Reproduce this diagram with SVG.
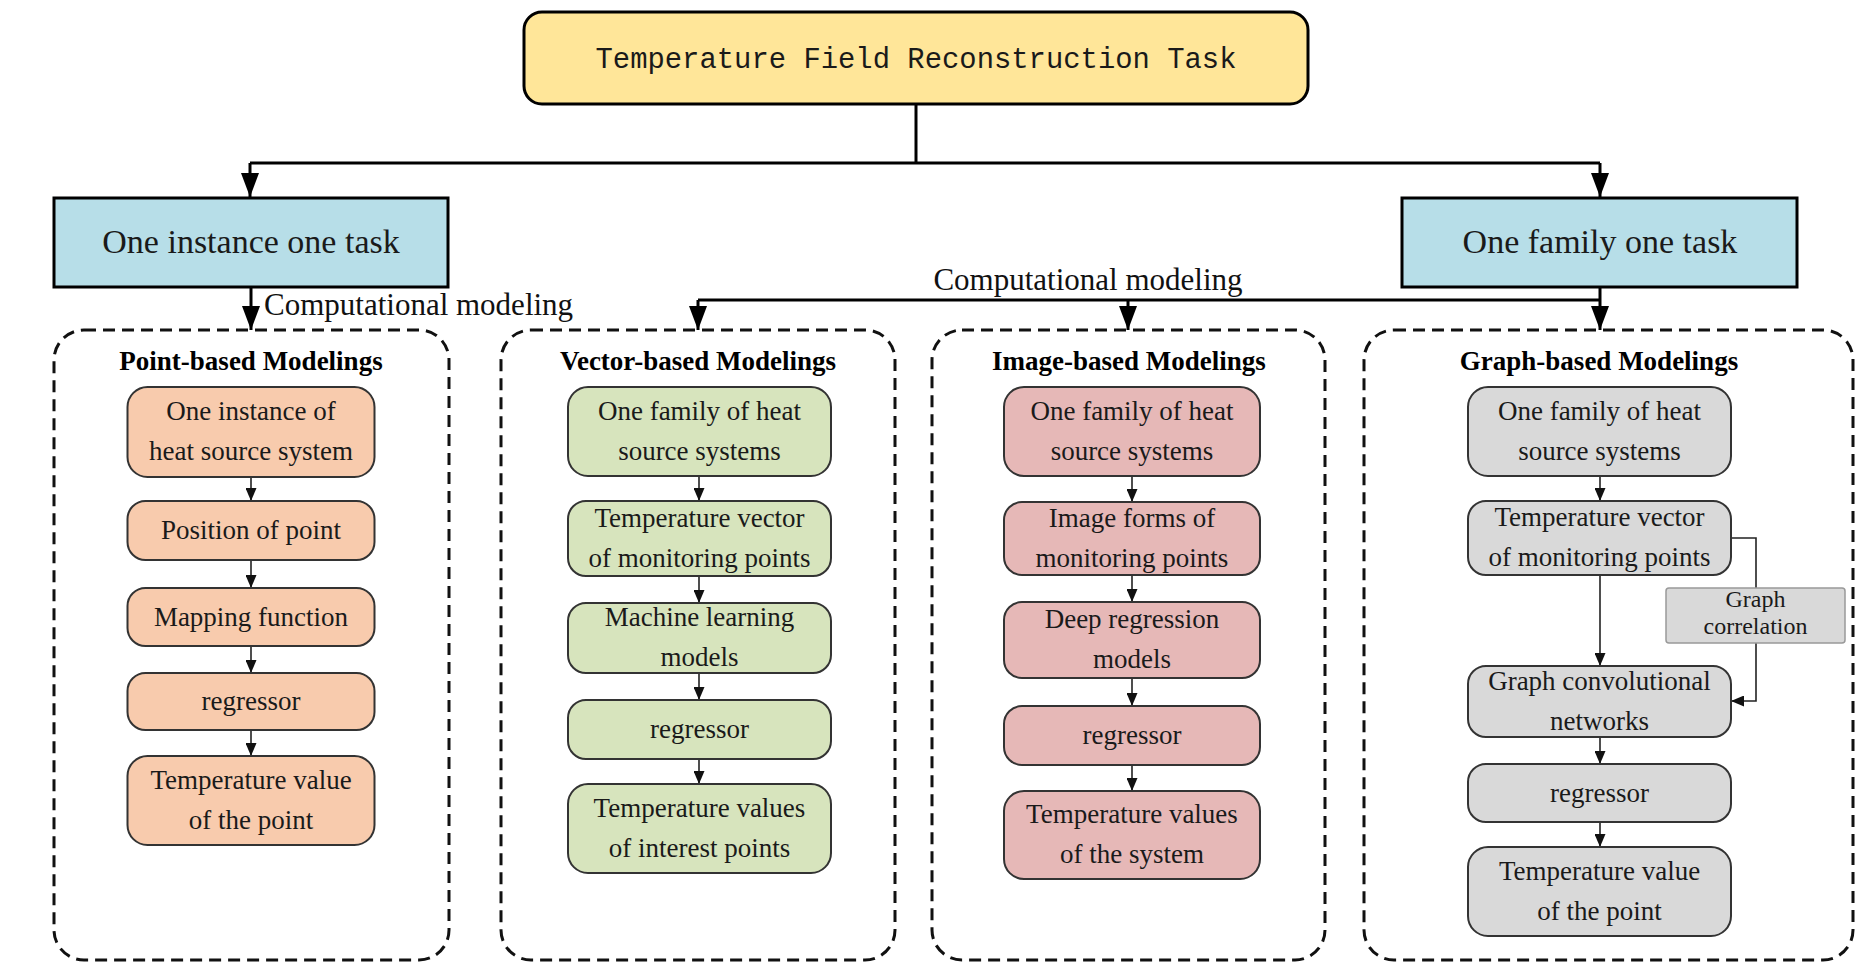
<svg xmlns="http://www.w3.org/2000/svg" width="1868" height="978" viewBox="0 0 1868 978">
<style>
  .t { font-family: "Liberation Serif", "Times New Roman", serif; fill: #1a1a1a; text-anchor: middle; }
  .nt { font-size: 27px; }
  .st { font-size: 24px; }
  .title { font-size: 27px; font-weight: bold; fill: #000; }
  .lbl { font-size: 31px; fill: #111; }
  .big { font-size: 34px; }
  .node { stroke: #333; stroke-width: 2; }
  .peach { fill: #F8CBAD; }
  .green { fill: #D7E4BD; }
  .pink { fill: #E6B8B7; }
  .gray { fill: #D9D9D9; }
  .dash { fill: none; stroke: #111; stroke-width: 3; stroke-dasharray: 12 7; }
  .conn { fill: none; stroke: #000; stroke-width: 3; }
  .sconn { fill: none; stroke: #222; stroke-width: 1.6; }
</style>
<defs>
  <marker id="ab" viewBox="0 0 24 18" markerWidth="24" markerHeight="18" refX="24" refY="9" orient="auto" markerUnits="userSpaceOnUse">
    <path d="M0,0 L24,9 L0,18 Z" fill="#000"/>
  </marker>
  <marker id="as" viewBox="0 0 13 11" markerWidth="13" markerHeight="11" refX="13" refY="5.5" orient="auto" markerUnits="userSpaceOnUse">
    <path d="M0,0 L13,5.5 L0,11 Z" fill="#111"/>
  </marker>
</defs>
<rect width="1868" height="978" fill="#fff"/>

<g id="connectors">
  <path class="conn" d="M916,104 V163"/>
  <path class="conn" d="M250,163 H1600"/>
  <path class="conn" d="M250,163 V197" marker-end="url(#ab)"/>
  <path class="conn" d="M1600,163 V197" marker-end="url(#ab)"/>
  <path class="conn" d="M251,287 V330" marker-end="url(#ab)"/>
  <path class="conn" d="M1600,287 V330" marker-end="url(#ab)"/>
  <path class="conn" d="M698,300 H1600"/>
  <path class="conn" d="M698,300 V330" marker-end="url(#ab)"/>
  <path class="conn" d="M1128,300 V330" marker-end="url(#ab)"/>
  <!-- column 1 -->
  <path class="sconn" d="M251,477 V501" marker-end="url(#as)"/>
  <path class="sconn" d="M251,560 V588" marker-end="url(#as)"/>
  <path class="sconn" d="M251,646 V673" marker-end="url(#as)"/>
  <path class="sconn" d="M251,730 V756" marker-end="url(#as)"/>
  <!-- column 2 -->
  <path class="sconn" d="M699,476 V501" marker-end="url(#as)"/>
  <path class="sconn" d="M699,576 V603" marker-end="url(#as)"/>
  <path class="sconn" d="M699,673 V700" marker-end="url(#as)"/>
  <path class="sconn" d="M699,759 V784" marker-end="url(#as)"/>
  <!-- column 3 -->
  <path class="sconn" d="M1132,476 V502" marker-end="url(#as)"/>
  <path class="sconn" d="M1132,575 V602" marker-end="url(#as)"/>
  <path class="sconn" d="M1132,678 V706" marker-end="url(#as)"/>
  <path class="sconn" d="M1132,765 V791" marker-end="url(#as)"/>
  <!-- column 4 -->
  <path class="sconn" d="M1600,476 V501" marker-end="url(#as)"/>
  <path class="sconn" d="M1600,575 V666" marker-end="url(#as)"/>
  <path class="sconn" d="M1600,737 V764" marker-end="url(#as)"/>
  <path class="sconn" d="M1600,822 V847" marker-end="url(#as)"/>
  <path class="sconn" d="M1731,538 H1756 V701 H1731" marker-end="url(#as)"/>
</g>

<g id="labels">
  <text class="t lbl" x="264" y="315" style="text-anchor:start">Computational modeling</text>
  <text class="t lbl" x="1088" y="290">Computational modeling</text>
</g>

<g id="task">
  <rect x="524" y="12" width="784" height="92" rx="18" fill="#FFE699" stroke="#000" stroke-width="3"/>
  <text x="916" y="68" font-family="Liberation Mono, Courier New, monospace" font-size="30" fill="#1a1a1a" text-anchor="middle" textLength="641" lengthAdjust="spacingAndGlyphs">Temperature Field Reconstruction Task</text>
</g>

<g id="instance-task">
  <rect x="54" y="198" width="394" height="89" fill="#B7DEE8" stroke="#000" stroke-width="3"/>
  <text class="t big" x="251" y="253">One instance one task</text>
</g>
<g id="family-task">
  <rect x="1402" y="198" width="395" height="89" fill="#B7DEE8" stroke="#000" stroke-width="3"/>
  <text class="t big" x="1600" y="253">One family one task</text>
</g>

<g id="point-based">
  <rect class="dash" x="54" y="330" width="395" height="630" rx="30"/>
  <text class="t title" x="251" y="370">Point-based Modelings</text>
</g>
<g id="vector-based">
  <rect class="dash" x="501" y="330" width="394" height="630" rx="30"/>
  <text class="t title" x="698" y="370">Vector-based Modelings</text>
</g>
<g id="image-based">
  <rect class="dash" x="932" y="330" width="393" height="630" rx="30"/>
  <text class="t title" x="1129" y="370">Image-based Modelings</text>
</g>
<g id="graph-based">
  <rect class="dash" x="1364" y="330" width="489" height="630" rx="30"/>
  <text class="t title" x="1599" y="370">Graph-based Modelings</text>
</g>

<!-- column 1 -->
<g id="p1"><rect class="node peach" x="127.5" y="387" width="247" height="90" rx="20"/>
  <text class="t nt" x="251" y="420">One instance of</text><text class="t nt" x="251" y="460">heat source system</text></g>
<g id="p2"><rect class="node peach" x="127.5" y="501" width="247" height="59" rx="18"/>
  <text class="t nt" x="251" y="539">Position of point</text></g>
<g id="p3"><rect class="node peach" x="127.5" y="588" width="247" height="58" rx="18"/>
  <text class="t nt" x="251" y="626">Mapping function</text></g>
<g id="p4"><rect class="node peach" x="127.5" y="673" width="247" height="57" rx="18"/>
  <text class="t nt" x="251" y="710">regressor</text></g>
<g id="p5"><rect class="node peach" x="127.5" y="756" width="247" height="89" rx="20"/>
  <text class="t nt" x="251" y="789">Temperature value</text><text class="t nt" x="251" y="829">of the point</text></g>

<!-- column 2 -->
<g id="v1"><rect class="node green" x="568" y="387" width="263" height="89" rx="20"/>
  <text class="t nt" x="699.5" y="420">One family of heat</text><text class="t nt" x="699.5" y="460">source systems</text></g>
<g id="v2"><rect class="node green" x="568" y="501" width="263" height="75" rx="18"/>
  <text class="t nt" x="699.5" y="527">Temperature vector</text><text class="t nt" x="699.5" y="567">of monitoring points</text></g>
<g id="v3"><rect class="node green" x="568" y="603" width="263" height="70" rx="18"/>
  <text class="t nt" x="699.5" y="626">Machine learning</text><text class="t nt" x="699.5" y="666">models</text></g>
<g id="v4"><rect class="node green" x="568" y="700" width="263" height="59" rx="18"/>
  <text class="t nt" x="699.5" y="738">regressor</text></g>
<g id="v5"><rect class="node green" x="568" y="784" width="263" height="89" rx="20"/>
  <text class="t nt" x="699.5" y="817">Temperature values</text><text class="t nt" x="699.5" y="857">of interest points</text></g>

<!-- column 3 -->
<g id="i1"><rect class="node pink" x="1004" y="387" width="256" height="89" rx="20"/>
  <text class="t nt" x="1132" y="420">One family of heat</text><text class="t nt" x="1132" y="460">source systems</text></g>
<g id="i2"><rect class="node pink" x="1004" y="502" width="256" height="73" rx="18"/>
  <text class="t nt" x="1132" y="527">Image forms of</text><text class="t nt" x="1132" y="567">monitoring points</text></g>
<g id="i3"><rect class="node pink" x="1004" y="602" width="256" height="76" rx="18"/>
  <text class="t nt" x="1132" y="628">Deep regression</text><text class="t nt" x="1132" y="668">models</text></g>
<g id="i4"><rect class="node pink" x="1004" y="706" width="256" height="59" rx="18"/>
  <text class="t nt" x="1132" y="744">regressor</text></g>
<g id="i5"><rect class="node pink" x="1004" y="791" width="256" height="88" rx="20"/>
  <text class="t nt" x="1132" y="823">Temperature values</text><text class="t nt" x="1132" y="863">of the system</text></g>

<!-- column 4 -->
<g id="g1"><rect class="node gray" x="1468" y="387" width="263" height="89" rx="20"/>
  <text class="t nt" x="1599.5" y="420">One family of heat</text><text class="t nt" x="1599.5" y="460">source systems</text></g>
<g id="g2"><rect class="node gray" x="1468" y="501" width="263" height="74" rx="18"/>
  <text class="t nt" x="1599.5" y="526">Temperature vector</text><text class="t nt" x="1599.5" y="566">of monitoring points</text></g>
<g id="g-corr"><rect x="1666" y="588" width="179" height="55" rx="3" fill="#D9D9D9" stroke="#999" stroke-width="1.5"/>
  <text class="t st" x="1755.5" y="607">Graph</text><text class="t st" x="1755.5" y="634">correlation</text></g>
<g id="g3"><rect class="node gray" x="1468" y="666" width="263" height="71" rx="18"/>
  <text class="t nt" x="1599.5" y="690">Graph convolutional</text><text class="t nt" x="1599.5" y="730">networks</text></g>
<g id="g4"><rect class="node gray" x="1468" y="764" width="263" height="58" rx="18"/>
  <text class="t nt" x="1599.5" y="802">regressor</text></g>
<g id="g5"><rect class="node gray" x="1468" y="847" width="263" height="89" rx="20"/>
  <text class="t nt" x="1599.5" y="880">Temperature value</text><text class="t nt" x="1599.5" y="920">of the point</text></g>
</svg>
